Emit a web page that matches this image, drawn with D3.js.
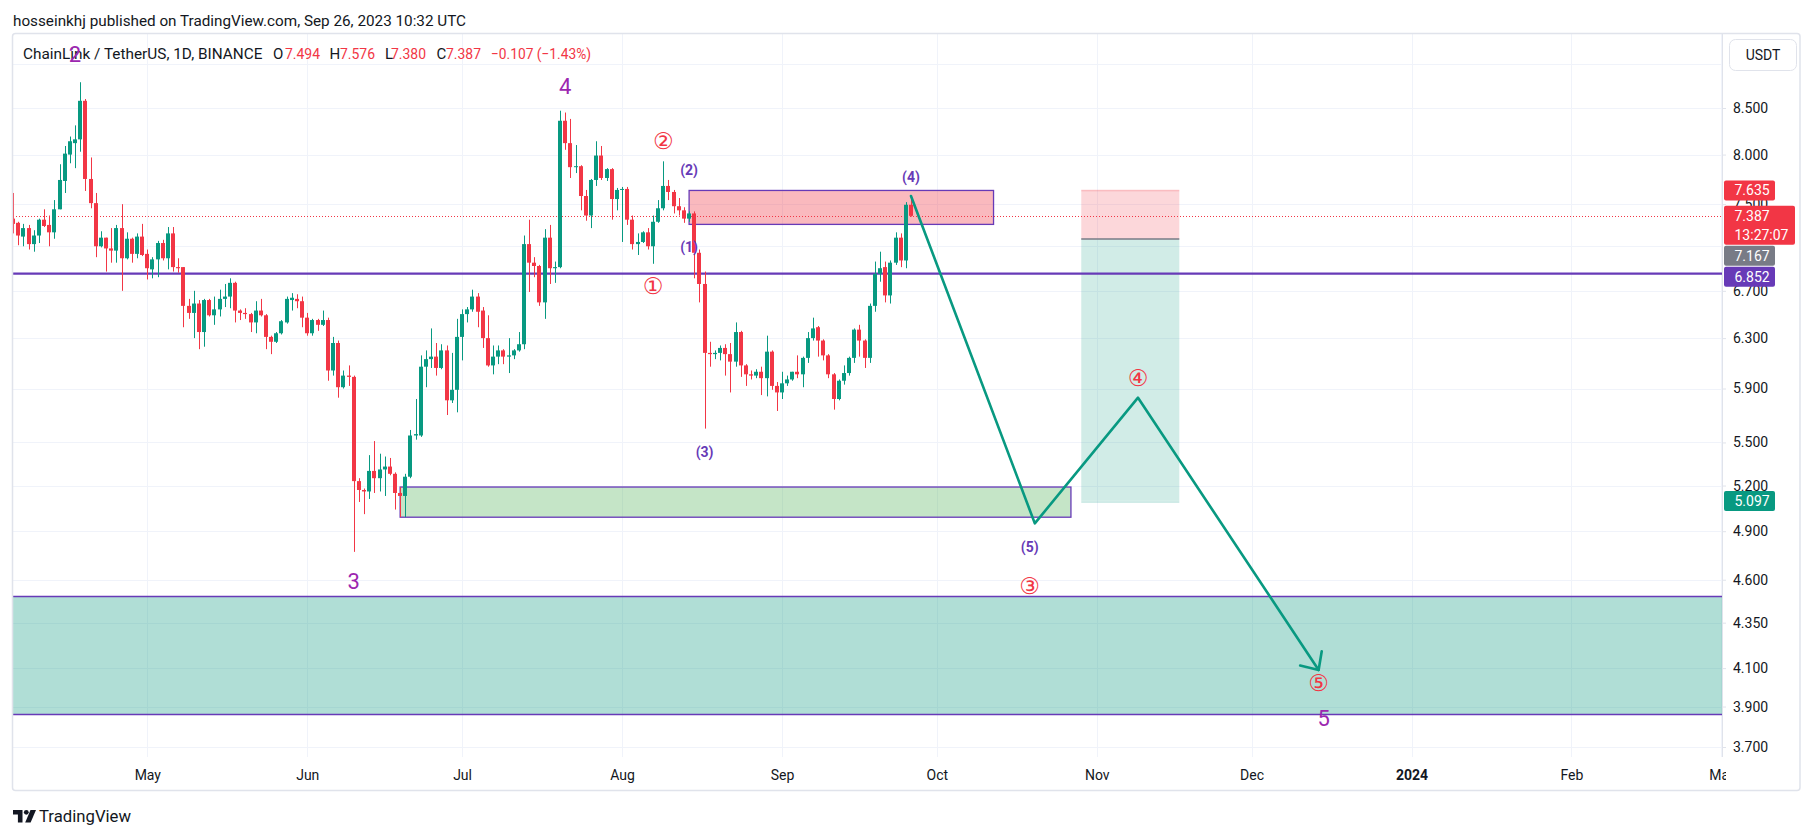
<!DOCTYPE html>
<html><head><meta charset="utf-8">
<script src="https://cdn.jsdelivr.net/npm/d3@7/dist/d3.min.js"></script>
<style>
html,body{margin:0;padding:0;background:#fff;}
svg{display:block;font-family:Roboto,"Noto Sans",sans-serif;}
</style></head><body>
<svg id="chart" width="1814" height="836"></svg>
<script>
// ---------------- DATA ----------------
const startDate = "2023-04-05";
const openPrices = [
7.36,7.32,7.19,7.27,7.12,7.20,7.35,7.30,7.23,7.45,
7.73,8.00,8.12,8.16,8.58,7.75,7.51,7.10,7.18,7.08,
7.06,7.27,6.99,7.17,7.03,7.19,7.03,6.89,6.98,7.13,
6.99,7.22,6.91,6.91,6.57,6.51,6.59,6.35,6.62,6.49,
6.54,6.63,6.65,6.77,6.53,6.51,6.50,6.43,6.53,6.49,
6.31,6.27,6.34,6.43,6.62,6.63,6.61,6.47,6.34,6.45,
6.41,6.45,6.04,6.26,5.91,6.00,5.99,5.23,5.17,5.16,
5.30,5.25,5.31,5.33,5.28,5.15,5.13,5.26,5.55,5.55,
6.07,6.13,6.15,6.06,6.20,5.81,5.89,6.31,6.50,6.54,
6.65,6.53,6.30,6.08,6.15,6.20,6.15,6.16,6.20,6.25,
7.12,6.95,6.92,6.60,7.18,6.90,6.91,8.36,8.12,7.87,
7.88,7.58,7.39,7.74,7.99,7.76,7.85,7.55,7.64,7.65,
7.35,7.12,7.14,7.23,7.10,7.33,7.46,7.68,7.62,7.48,
7.44,7.36,7.41,7.04,6.76,6.18,6.17,6.18,6.22,6.17,
6.11,6.35,6.08,6.01,6.00,6.03,5.98,6.19,5.92,5.87,
5.94,5.97,6.03,6.01,6.14,6.30,6.39,6.28,6.16,6.01,
5.82,5.96,6.02,6.14,6.37,6.28,6.14,6.57,6.85,6.91,
6.66,6.95,7.18,6.97,7.494];
const highPrices = [
7.61,7.33,7.31,7.30,7.25,7.36,7.45,7.39,7.54,7.90,
8.09,8.19,8.31,8.79,8.60,7.97,7.61,7.24,7.18,7.27,
7.30,7.50,7.23,7.18,7.22,7.31,7.07,7.00,7.15,7.16,
7.28,7.28,6.99,6.91,6.63,6.70,6.62,6.63,6.63,6.65,
6.71,6.76,6.81,6.78,6.54,6.55,6.51,6.61,6.63,6.50,
6.32,6.35,6.45,6.65,6.68,6.67,6.65,6.51,6.46,6.46,
6.53,6.47,6.31,6.28,6.04,6.08,6.00,5.25,5.18,5.41,
5.51,5.42,5.40,5.39,5.29,5.19,5.28,5.59,5.82,6.16,
6.20,6.38,6.26,6.25,6.24,6.18,6.46,6.54,6.56,6.71,
6.68,6.56,6.49,6.24,6.24,6.21,6.30,6.21,6.35,7.20,
7.35,7.00,6.93,7.26,7.30,6.96,8.47,8.45,8.38,8.10,
7.89,7.64,7.75,8.14,8.09,7.86,7.86,7.66,7.67,7.67,
7.39,7.22,7.24,7.27,7.39,7.54,7.93,7.74,7.64,7.56,
7.47,7.43,7.43,7.07,6.87,6.27,6.20,6.24,6.25,6.26,
6.43,6.36,6.09,6.04,6.05,6.07,6.32,6.20,5.95,6.03,
6.00,6.03,6.16,6.15,6.35,6.47,6.40,6.29,6.17,6.02,
5.97,6.08,6.15,6.38,6.41,6.29,6.59,6.96,7.05,6.96,
6.97,7.23,7.22,7.52,7.576];
const lowPrices = [
7.22,7.11,7.10,7.07,7.05,7.13,7.28,7.10,7.17,7.45,
7.61,7.91,7.86,8.03,7.63,7.46,7.00,7.09,6.87,6.95,
6.95,6.70,6.98,6.95,6.99,7.01,6.80,6.81,6.82,6.97,
6.89,6.87,6.86,6.39,6.46,6.30,6.21,6.23,6.48,6.41,
6.48,6.56,6.55,6.43,6.45,6.46,6.35,6.34,6.48,6.21,
6.17,6.26,6.33,6.42,6.53,6.55,6.39,6.32,6.32,6.36,
6.40,5.96,6.00,5.83,5.90,5.92,4.77,5.09,5.01,5.11,
5.15,5.16,5.13,5.27,5.04,4.99,4.99,5.25,5.52,5.54,
5.91,6.06,6.00,6.05,5.70,5.79,5.72,6.12,6.43,6.52,
6.39,6.22,6.07,6.01,6.09,6.09,6.02,6.13,6.19,6.21,
6.69,6.82,6.57,6.46,6.76,6.77,6.90,8.05,7.76,7.81,
7.44,7.34,7.27,7.68,7.74,7.73,7.35,7.44,7.14,7.30,
7.07,7.02,7.13,7.07,6.94,7.32,7.44,7.54,7.41,7.39,
7.32,7.33,6.81,6.60,5.60,6.07,6.13,6.12,6.00,5.87,
6.07,5.99,5.92,5.97,5.98,5.85,5.84,5.89,5.73,5.82,
5.92,5.96,5.98,5.91,6.10,6.28,6.15,6.12,5.98,5.74,
5.81,5.93,6.00,6.10,6.15,6.06,6.10,6.52,6.78,6.60,
6.59,6.93,6.91,6.90,7.380];
const closePrices = [
7.31,7.20,7.27,7.12,7.20,7.35,7.29,7.23,7.45,7.74,
8.01,8.14,8.16,8.58,7.75,7.51,7.10,7.18,7.08,7.06,
7.27,6.99,7.17,7.03,7.19,7.02,6.90,6.98,7.13,6.99,
7.22,6.91,6.90,6.57,6.51,6.59,6.35,6.62,6.49,6.54,
6.63,6.65,6.77,6.53,6.51,6.50,6.43,6.53,6.49,6.31,
6.27,6.34,6.44,6.63,6.64,6.61,6.47,6.34,6.45,6.41,
6.45,6.04,6.26,5.91,6.00,5.99,5.23,5.17,5.16,5.30,
5.25,5.31,5.33,5.28,5.15,5.13,5.26,5.55,5.56,6.07,
6.13,6.15,6.06,6.20,5.81,5.89,6.31,6.50,6.54,6.65,
6.52,6.30,6.08,6.15,6.20,6.15,6.16,6.20,6.25,7.12,
6.95,6.92,6.60,7.18,6.90,6.91,8.36,8.12,7.87,7.88,
7.58,7.39,7.74,7.99,7.76,7.85,7.55,7.64,7.65,7.35,
7.12,7.14,7.23,7.10,7.33,7.46,7.68,7.62,7.48,7.44,
7.36,7.41,7.04,6.76,6.18,6.17,6.18,6.22,6.17,6.11,
6.35,6.08,6.01,6.00,6.03,5.98,6.19,5.92,5.87,5.94,
5.97,6.03,6.01,6.14,6.30,6.38,6.28,6.16,6.01,5.82,
5.96,6.02,6.14,6.37,6.28,6.14,6.57,6.85,6.90,6.66,
6.95,7.18,6.97,7.494,7.387];

const gridPrices = [9.0, 8.5, 8.0, 7.5, 7.1, 6.7, 6.3, 5.9, 5.5, 5.2, 4.9, 4.6, 4.35, 4.1, 3.9, 3.7];
const priceTickLabels = [8.5, 8.0, 7.5, 6.7, 6.3, 5.9, 5.5, 5.2, 4.9, 4.6, 4.35, 4.1, 3.9, 3.7];
const monthTickDates = ["2023-05-01","2023-06-01","2023-07-01","2023-08-01","2023-09-01","2023-10-01","2023-11-01","2023-12-01","2024-01-01","2024-02-01","2024-03-01"];
const monthTickLabels = ["May","Jun","Jul","Aug","Sep","Oct","Nov","Dec","2024","Feb","Mar"];

const keyLevelPrice = 6.852;
const lastPrice = 7.387;

const supplyZoneDates = ["2023-08-14","2023-10-12"];
const supplyZonePrices = [7.635, 7.305];
const demandZoneDates = ["2023-06-19","2023-10-27"];
const demandZonePrices = [5.19, 4.99];
const targetZonePrices = [4.50, 3.86];
const positionDates = ["2023-10-29","2023-11-17"];
const positionPrices = [7.635, 7.167, 5.097]; // stop, entry, target

const pathDates = ["2023-09-26","2023-10-20","2023-11-09","2023-12-14"];
const pathPrices = [7.58, 4.95, 5.83, 4.09];

const majorWaveText = ["2","3","4","5"];
const majorWaveDates = ["2023-04-17","2023-06-10","2023-07-21","2023-12-15"];
const majorWavePrices = [9.11, 4.59, 8.74, 3.84];

const minorWaveText = ["①","②","③","④","⑤"];
const minorWaveDates = ["2023-08-07","2023-08-09","2023-10-19","2023-11-09","2023-12-14"];
const minorWavePrices = [6.74, 8.14, 4.56, 5.98, 4.02];

const subWaveText = ["(1)","(2)","(3)","(4)","(5)"];
const subWaveDates = ["2023-08-14","2023-08-14","2023-08-17","2023-09-26","2023-10-19"];
const subWavePrices = [7.09, 7.84, 5.43, 7.77, 4.80];

const tagPrices = [7.635, 7.387, 7.167, 6.852, 5.097];
const tagColors = ["#f23645","#f23645","#787b86","#673ab7","#089981"];
const countdownText = "13:27:07";

const headerText = "hosseinkhj published on TradingView.com, Sep 26, 2023 10:32 UTC";
const symbolText = "ChainLink / TetherUS, 1D, BINANCE";
const ohlcKeys = ["O","H","L","C"];
const ohlcValues = ["7.494","7.576","7.380","7.387"];
const changeText = "\u22120.107 (\u22121.43%)";

// ---------------- LAYOUT ----------------
const L = 13, R = 1722, T = 34, B = 757;
const UP = "#089981", DOWN = "#f23645", TEXT = "#131722", GRID = "#f0f3fa", BORDER = "#e0e3eb";
const parse = s => new Date(s + "T00:00:00Z");

const x = d3.scaleUtc().domain([parse("2023-05-01"), parse("2024-03-01")]).range([147.3, 1721.1]);
const y = d3.scaleLog().domain([3.7, 8.5]).range([747, 108]);

const svg = d3.select("#chart");
svg.append("rect").attr("width",1814).attr("height",836).attr("fill","#fff");

const defs = svg.append("defs");
defs.append("clipPath").attr("id","plotClip").append("rect").attr("x",L).attr("y",T).attr("width",R-L).attr("height",B-T);
defs.append("clipPath").attr("id","timeClip").append("rect").attr("x",L).attr("y",B).attr("width",R-L+4).attr("height",34);

const plot = svg.append("g").attr("clip-path","url(#plotClip)");

// gridlines
plot.append("g").selectAll("line").data(gridPrices).join("line")
  .attr("x1",L).attr("x2",R).attr("y1",d=>Math.round(y(d))+0.5).attr("y2",d=>Math.round(y(d))+0.5)
  .attr("stroke",GRID).attr("stroke-width",1);
plot.append("g").selectAll("line").data(monthTickDates.map(parse)).join("line")
  .attr("y1",T).attr("y2",B).attr("x1",d=>Math.round(x(d))+0.5).attr("x2",d=>Math.round(x(d))+0.5)
  .attr("stroke",GRID).attr("stroke-width",1);

// header & legend
svg.append("text").attr("x",13).attr("y",26).attr("font-size",15).attr("fill",TEXT)
  .attr("textLength",453).attr("lengthAdjust","spacingAndGlyphs").text(headerText);
const legend = svg.append("g").attr("font-size",15);
legend.append("text").attr("x",23).attr("y",59).attr("fill",TEXT)
  .attr("textLength",239.5).attr("lengthAdjust","spacingAndGlyphs").text(symbolText);
const keyX = [273, 329.5, 385, 436.6], valX = [285, 340, 391, 446];
ohlcKeys.forEach((k,i)=>{
  legend.append("text").attr("x",keyX[i]).attr("y",59).attr("fill",TEXT).text(k);
  legend.append("text").attr("x",valX[i]).attr("y",59).attr("fill",DOWN)
    .attr("textLength",35).attr("lengthAdjust","spacingAndGlyphs").text(ohlcValues[i]);
});
legend.append("text").attr("x",491).attr("y",59).attr("fill",DOWN)
  .attr("textLength",100).attr("lengthAdjust","spacingAndGlyphs").text(changeText);

// zones
plot.append("rect").attr("x",L).attr("width",R-L)
  .attr("y",y(targetZonePrices[0])).attr("height",y(targetZonePrices[1])-y(targetZonePrices[0]))
  .attr("fill","rgba(8,153,129,0.32)");
plot.append("g").selectAll("line").data(targetZonePrices).join("line")
  .attr("x1",L).attr("x2",R).attr("y1",d=>y(d)).attr("y2",d=>y(d)).attr("stroke","#673ab7").attr("stroke-width",1.5);

function zone(dates, prices, fill){
  plot.append("rect")
    .attr("x",x(parse(dates[0]))).attr("width",x(parse(dates[1]))-x(parse(dates[0])))
    .attr("y",y(prices[0])).attr("height",y(prices[1])-y(prices[0]))
    .attr("fill",fill).attr("stroke","#673ab7").attr("stroke-width",1.3);
}
zone(demandZoneDates, demandZonePrices, "rgba(76,175,80,0.32)");
zone(supplyZoneDates, supplyZonePrices, "rgba(242,54,69,0.35)");

// position tool
const px0 = x(parse(positionDates[0])), px1 = x(parse(positionDates[1]));
plot.append("rect").attr("x",px0).attr("width",px1-px0)
  .attr("y",y(positionPrices[0])).attr("height",y(positionPrices[1])-y(positionPrices[0]))
  .attr("fill","rgba(242,54,69,0.2)");
plot.append("rect").attr("x",px0).attr("width",px1-px0)
  .attr("y",y(positionPrices[1])).attr("height",y(positionPrices[2])-y(positionPrices[1]))
  .attr("fill","rgba(8,153,129,0.19)");
plot.append("line").attr("x1",px0).attr("x2",px1).attr("y1",y(positionPrices[0])).attr("y2",y(positionPrices[0]))
  .attr("stroke","rgba(242,54,69,0.25)").attr("stroke-width",1.5);
plot.append("line").attr("x1",px0).attr("x2",px1).attr("y1",y(positionPrices[1])).attr("y2",y(positionPrices[1]))
  .attr("stroke","#787b86").attr("stroke-width",1.5);
plot.append("line").attr("x1",px0).attr("x2",px1).attr("y1",y(positionPrices[2])+1).attr("y2",y(positionPrices[2])+1)
  .attr("stroke","rgba(8,153,129,0.25)").attr("stroke-width",1.5);

// key level
plot.append("line").attr("x1",L).attr("x2",R).attr("y1",y(keyLevelPrice)).attr("y2",y(keyLevelPrice))
  .attr("stroke","#673ab7").attr("stroke-width",2.2);
// last price dotted
plot.append("line").attr("x1",L).attr("x2",R).attr("y1",Math.round(y(lastPrice))+0.5).attr("y2",Math.round(y(lastPrice))+0.5)
  .attr("stroke",DOWN).attr("stroke-width",1).attr("stroke-dasharray","1,2");

// candles
const t0 = parse(startDate);
const candles = d3.range(openPrices.length).map(i=>({
  date: d3.utcDay.offset(t0,i), o:openPrices[i], h:highPrices[i], l:lowPrices[i], c:closePrices[i]}));
const bw = 4;
const cg = plot.append("g");
cg.selectAll("rect.wick").data(candles).join("rect").attr("class","wick")
  .attr("x",d=>Math.round(x(d.date)-bw/2)+2)
  .attr("width",1)
  .attr("y",d=>y(d.h)).attr("height",d=>Math.max(1,y(d.l)-y(d.h)))
  .attr("fill",d=>d.c>=d.o?UP:DOWN);
cg.selectAll("rect.body").data(candles).join("rect").attr("class","body")
  .attr("x",d=>Math.round(x(d.date)-bw/2)).attr("width",bw)
  .attr("y",d=>y(Math.max(d.o,d.c))).attr("height",d=>Math.max(1,Math.abs(y(d.o)-y(d.c))))
  .attr("fill",d=>d.c>=d.o?UP:DOWN);

// projection path
const pts = pathDates.map((d,i)=>[x(parse(d)), y(pathPrices[i])]);
plot.append("path").attr("d",d3.line()(pts)).attr("fill","none").attr("stroke",UP).attr("stroke-width",2.6)
  .attr("stroke-linejoin","round").attr("stroke-linecap","round");
{
  const a = pts[pts.length-2], b = pts[pts.length-1];
  const ang = Math.atan2(a[1]-b[1], a[0]-b[0]);
  const len = 19, spread = 43*Math.PI/180;
  const arm = s => [b[0]+len*Math.cos(ang+s), b[1]+len*Math.sin(ang+s)];
  plot.append("path").attr("d",d3.line()([arm(spread), b, arm(-spread)]))
    .attr("fill","none").attr("stroke",UP).attr("stroke-width",2.6).attr("stroke-linecap","round").attr("stroke-linejoin","round");
}

// wave labels
const labels = svg.append("g");
labels.selectAll("text.maj").data(majorWaveText).join("text").attr("class","maj")
  .attr("x",(d,i)=>x(parse(majorWaveDates[i]))).attr("y",(d,i)=>y(majorWavePrices[i]))
  .attr("text-anchor","middle").attr("dominant-baseline","central")
  .attr("font-size",22).attr("fill","#9c27b0").text(d=>d);
labels.selectAll("text.min").data(minorWaveText).join("text").attr("class","min")
  .attr("x",(d,i)=>x(parse(minorWaveDates[i]))).attr("y",(d,i)=>y(minorWavePrices[i]))
  .attr("text-anchor","middle").attr("dominant-baseline","central")
  .attr("font-family","'DejaVu Sans'").attr("font-size",23).attr("fill",DOWN).text(d=>d);
labels.selectAll("text.sub").data(subWaveText).join("text").attr("class","sub")
  .attr("x",(d,i)=>x(parse(subWaveDates[i]))).attr("y",(d,i)=>y(subWavePrices[i]))
  .attr("text-anchor","middle").attr("dominant-baseline","central")
  .attr("font-size",14).attr("font-weight",700).attr("fill","#673ab7").text(d=>d);

// price axis
svg.append("line").attr("x1",R+0.5).attr("x2",R+0.5).attr("y1",T).attr("y2",B).attr("stroke",BORDER);
const yAxis = svg.append("g").attr("transform",`translate(${R},0)`)
  .call(d3.axisRight(y).tickValues(priceTickLabels).tickFormat(d3.format(".3f")).tickSize(4).tickPadding(7));
yAxis.select(".domain").remove();
yAxis.selectAll(".tick line").attr("stroke",BORDER);
yAxis.selectAll(".tick text").attr("font-size",14).attr("fill",TEXT).attr("font-family","Roboto");

// USDT button
svg.append("rect").attr("x",1729.5).attr("y",39.5).attr("width",67).attr("height",31).attr("rx",6)
  .attr("fill","#fff").attr("stroke",BORDER);
svg.append("text").attr("x",1763).attr("y",55).attr("text-anchor","middle").attr("dominant-baseline","central")
  .attr("font-size",14).attr("fill",TEXT).text("USDT");

// price tags
{
  let prevBottom = -Infinity;
  tagPrices.forEach((p,i)=>{
    const two = (p === lastPrice);
    const h = two ? 39 : 20;
    const top = Math.max(y(p)-10, prevBottom+1);
    prevBottom = top + h;
    svg.append("rect").attr("x",1724).attr("y",top).attr("width",two?71:51).attr("height",h).attr("rx",2)
      .attr("fill",tagColors[i]);
    svg.append("text").attr("x",1734.5).attr("y",top+10).attr("dominant-baseline","central")
      .attr("font-size",14).attr("fill","#fff").text(d3.format(".3f")(p));
    if (two) svg.append("text").attr("x",1734.5).attr("y",top+29).attr("dominant-baseline","central")
      .attr("font-size",14).attr("fill","#fff").text(countdownText);
  });
}

// time axis
const xAxis = svg.append("g").attr("clip-path","url(#timeClip)").append("g").attr("transform",`translate(0,${B})`)
  .call(d3.axisBottom(x).tickValues(monthTickDates.map(parse)).tickFormat((d,i)=>monthTickLabels[i]).tickSize(0));
xAxis.select(".domain").remove();
xAxis.selectAll(".tick text").attr("y",18).attr("dy","0.35em").attr("font-size",14).attr("fill",TEXT)
  .attr("font-family","Roboto").attr("font-weight",(d,i)=>monthTickLabels[i]==="2024"?700:400);

// frame
svg.append("rect").attr("x",12.5).attr("y",33.5).attr("width",1787.5).attr("height",757).attr("rx",3)
  .attr("fill","none").attr("stroke",BORDER).attr("stroke-width",1.5);

// logo
const logo = svg.append("g").attr("fill",TEXT);
logo.append("path").attr("d","M13 810h9.5v12.5h-4.6v-8H13z");
logo.append("circle").attr("cx",26.3).attr("cy",812.3).attr("r",2.4);
logo.append("path").attr("d","M30.5 810h5.5l-5.4 12.5h-5.4z");
svg.append("text").attr("x",39).attr("y",821.5).attr("font-size",16).attr("fill",TEXT)
  .attr("textLength",92).attr("lengthAdjust","spacingAndGlyphs").text("TradingView");
</script>
</body></html>
